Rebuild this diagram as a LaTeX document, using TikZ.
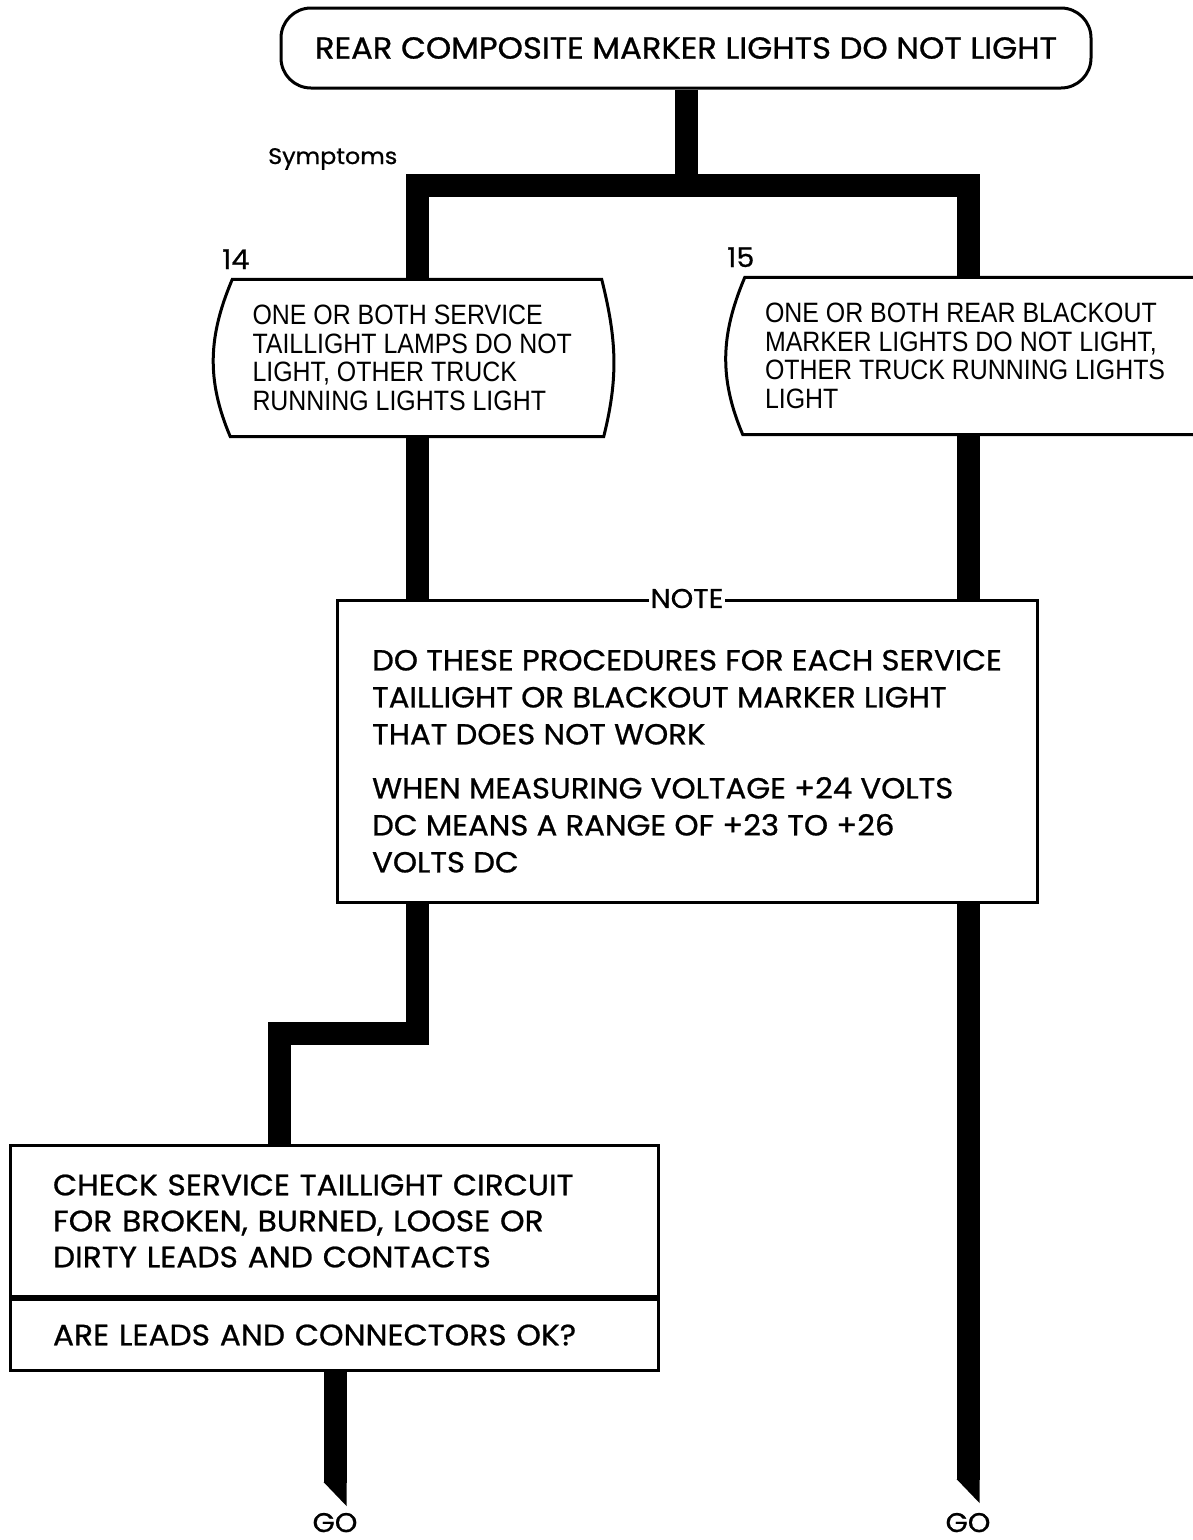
\documentclass[tikz,border=0pt]{standalone}
\usepackage{fontspec}
\setmainfont{Poppins}[FakeStretch=1.06,FakeBold=0.8]
\newfontfamily\condfont[FakeStretch=0.89]{Liberation Sans}
\usepackage{tikz}

\newcommand\bulgebox[1]{%
\draw[line width=3pt] ([xshift=2pt]#1.north west) -- ([xshift=-2pt]#1.north east)
  to[out=-76,in=76] (#1.south east) -- (#1.south west)
  to[out=113,in=-113] cycle;}

\begin{document}
\begin{tikzpicture}[x=1pt,y=-1pt,
  boxline/.style={draw,line width=3pt},
  trunk/.style={line width=23pt,line join=miter},
  tag/.style={inner sep=0pt,anchor=base west},
  symbox/.style={align=flush left,inner xsep=22pt,inner ysep=0pt,minimum height=157,
    font=\condfont\fontsize{28}{28.7}\selectfont}]
\useasboundingbox[fill=white] (0,0) rectangle (1192,1540);

\node[boxline,rounded corners=30pt,minimum width=810,minimum height=80,
  font=\fontsize{30.4}{34}\selectfont] (title) at (686,48)
  {REAR COMPOSITE MARKER LIGHTS DO NOT LIGHT};

\node[tag,font=\fontsize{22.5}{26}\selectfont] (symlbl) at (268,164) {Symptoms};
\node[tag,font=\fontsize{27}{30}\selectfont] (n14) at (222,269) {14};
\node[tag,font=\fontsize{27}{30}\selectfont] (n15) at (727,267) {15};

\node[symbox,text width=329] (s14) at (417,358)
  {ONE OR BOTH SERVICE\\TAILLIGHT LAMPS DO NOT\\LIGHT, OTHER TRUCK\\RUNNING LIGHTS LIGHT};
\node[symbox,text width=412] (s15) at (971,356)
  {ONE OR BOTH REAR BLACKOUT\\MARKER LIGHTS DO NOT LIGHT,\\OTHER TRUCK RUNNING LIGHTS\\LIGHT};
\bulgebox{s14}
\bulgebox{s15}

\node[boxline,minimum width=700,minimum height=302,align=left,
  font=\fontsize{29}{37}\selectfont] (note) at (687,751)
  {\rule{0pt}{41pt}DO THESE PROCEDURES FOR EACH SERVICE\\
   TAILLIGHT OR BLACKOUT MARKER LIGHT\\
   THAT DOES NOT WORK\\[17pt]
   WHEN MEASURING VOLTAGE +24 VOLTS\\
   DC MEANS A RANGE OF +23 TO +26\\
   VOLTS DC};
\node[fill=white,inner xsep=2pt,inner ysep=0pt,font=\fontsize{27}{30}\selectfont]
  (notelbl) at (note.north) {NOTE};

\node[boxline,minimum width=648,minimum height=151,text width=562,align=left,
  font=\fontsize{29.5}{36}\selectfont] (check) at (334,1221)
  {CHECK SERVICE TAILLIGHT CIRCUIT\\FOR BROKEN, BURNED, LOOSE OR\\DIRTY LEADS AND CONTACTS};
\node[boxline,minimum width=648,minimum height=71,text width=562,align=left,
  font=\fontsize{29.5}{36}\selectfont,anchor=north] (ask) at (check.south)
  {ARE LEADS AND CONNECTORS OK?};

\coordinate (split) at (686,185);
\coordinate (jog) at (279,1033);
\coordinate (goL) at (335,1483);
\coordinate (goR) at (968,1480);

\draw[trunk] (title.south) -- (split);
\draw[trunk] (s14.north) |- (split) -| (s15.north -| goR);
\draw[trunk] (s14.south) -- (s14.south |- note.north);
\draw[trunk] (s15.south -| goR) -- (goR |- note.north);
\draw[trunk] (note.south -| s14.south) |- (jog) -- (jog |- check.north);
\draw[trunk] (ask.south -| goL) -- (goL);
\draw[trunk] (note.south -| goR) -- (goR);
\foreach \g in {goL,goR}
  \fill ([xshift=-11.5pt,yshift=1pt]\g) -- ([xshift=11.5pt,yshift=1pt]\g)
    -- ([xshift=11.5pt,yshift=-23pt]\g) -- cycle;

\node[inner sep=0pt,anchor=base,font=\fontsize{27}{30}\selectfont] (goLtxt) at (335,1532) {GO};
\node[inner sep=0pt,anchor=base,font=\fontsize{27}{30}\selectfont] (goRtxt) at (968,1532) {GO};
\end{tikzpicture}
\end{document}
